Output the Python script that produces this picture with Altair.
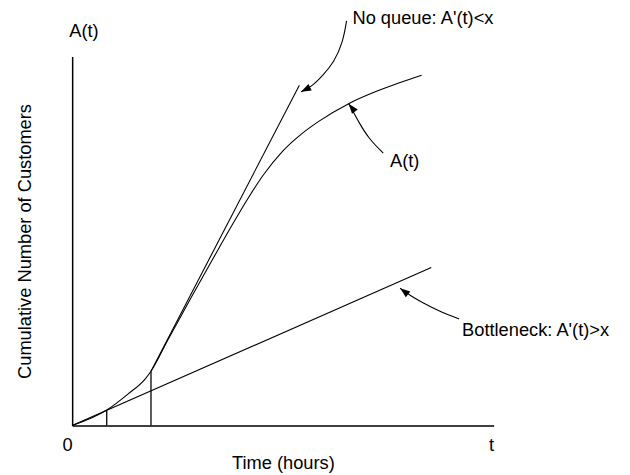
import altair as alt
import pandas as pd

FONT = "Liberation Sans"
FS = 18.5

# A(t): cumulative arrivals (hours, customers)
curve_t = [0, 0.82, 1.33, 1.73, 1.87, 2.27, 2.82, 3.35, 3.84, 4.17, 4.53, 4.99, 5.43, 5.85, 6.56, 7.19, 7.73, 8.29]
curve_a = [0, 4.2, 8.6, 12.6, 14.7, 23.2, 34.6, 45.4, 55.2, 61.5, 67.8, 74.3, 78.9, 82.4, 87.2, 90.4, 92.7, 94.9]

# straight reference lines (start/end)
line_names = ["Bottleneck", "No queue"]
line_t0 = [0.0, 1.87]
line_a0 = [0.0, 14.7]
line_t1 = [8.52, 5.39]
line_a1 = [42.8, 92.2]

# vertical drop lines
drop_t = [0.82, 1.87]
drop_top = [4.2, 14.7]

# annotation arrow paths
arrow_id = ["noq"] * 6 + ["at"] * 5 + ["bn"] * 5
arrow_t = [6.51, 6.42, 6.21, 5.95, 5.67, 5.43,
           7.38, 7.03, 6.79, 6.67, 6.56,
           9.18, 8.76, 8.29, 8.01, 7.78]
arrow_a = [109.6, 103.7, 98.4, 94.9, 91.7, 90.4,
           73.8, 77.8, 82.4, 85.0, 87.2,
           28.9, 30.7, 33.4, 35.3, 37.2]

# arrow heads (tip position and pointing direction, degrees clockwise from up)
head_t = [5.43, 6.56, 7.78]
head_a = [90.4, 87.2, 37.2]
head_angle = [243, 322, 308]

# annotation texts
label_text = ["A(t)", "No queue: A'(t)<x", "A(t)", "Bottleneck: A'(t)>x"]
label_t = [0.28, 6.65, 7.54, 9.25]
label_a = [106.8, 110.4, 71.7, 25.9]
label_align = ["center", "left", "left", "left"]

curve_df = pd.DataFrame({"t": curve_t, "a": curve_a})
lines_df = pd.DataFrame({"name": line_names, "t": line_t0, "a": line_a0, "t2": line_t1, "a2": line_a1})
drop_df = pd.DataFrame({"t": drop_t, "a": [0, 0], "a2": drop_top})
arrow_df = pd.DataFrame({"id": arrow_id, "t": arrow_t, "a": arrow_a, "i": list(range(len(arrow_t)))})
head_df = pd.DataFrame({"t": head_t, "a": head_a, "ang": head_angle})
label_df = pd.DataFrame({"text": label_text, "t": label_t, "a": label_a, "al": label_align})

xscale = alt.Scale(domain=[0, 10], nice=False, zero=False)
yscale = alt.Scale(domain=[0, 100], nice=False, zero=False)

x_enc = alt.X("t:Q", scale=xscale, axis=alt.Axis(
    values=[0, 10], labelExpr="datum.value == 0 ? '0' : 't'", ticks=False, grid=False,
    domainColor="black", domainWidth=1.5, labelFont=FONT, labelFontSize=FS, labelColor="black",
    labelAlign="right", labelFlush=False, labelPadding=10,
    title="Time (hours)", titleFont=FONT, titleFontSize=FS, titleFontWeight="normal",
    titleColor="black", titlePadding=0))
y_enc = alt.Y("a:Q", scale=yscale, axis=alt.Axis(
    ticks=False, labels=False, grid=False, domainColor="black", domainWidth=1.5,
    title="Cumulative Number of Customers", titleFont=FONT, titleFontSize=FS,
    titleFontWeight="normal", titleColor="black", titlePadding=38))

curve = alt.Chart(curve_df).mark_line(color="black", strokeWidth=1.1, interpolate="monotone").encode(x=x_enc, y=y_enc)
lines = alt.Chart(lines_df).mark_rule(color="black", strokeWidth=1.1).encode(x=x_enc, y=y_enc, x2="t2:Q", y2="a2:Q")
drops = alt.Chart(drop_df).mark_rule(color="black", strokeWidth=1.3).encode(x=x_enc, y=y_enc, y2="a2:Q")
arrows = alt.Chart(arrow_df).mark_line(color="black", strokeWidth=1.1, interpolate="basis").encode(
    x=x_enc, y=y_enc, detail="id:N", order="i:Q")
heads = alt.Chart(head_df).mark_point(
    shape="M0,0L0.36,1L-0.36,1Z", filled=True, color="black", opacity=1, size=420
).encode(x=x_enc, y=y_enc, angle=alt.Angle("ang:Q", scale=None))

text_layers = []
for al in ["center", "left"]:
    sub = label_df[label_df["al"] == al]
    text_layers.append(
        alt.Chart(sub).mark_text(font=FONT, fontSize=FS, color="black", baseline="middle", align=al)
        .encode(x=x_enc, y=y_enc, text="text:N")
    )

chart = alt.layer(curve, lines, drops, arrows, heads, *text_layers).properties(
    width=427, height=374,
    autosize=alt.AutoSizeParams(type="none"),
    padding={"left": 65, "top": 46, "right": 130, "bottom": 45},
    background="white",
).configure_view(stroke=None)

chart.save("out.html", embed_options={"renderer": "svg", "actions": False})
